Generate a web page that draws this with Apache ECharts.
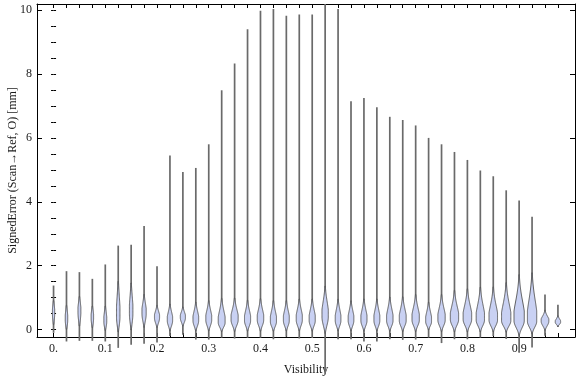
<!DOCTYPE html>
<html>
<head>
<meta charset="utf-8">
<script src="https://cdn.jsdelivr.net/npm/echarts@6.0.0/dist/echarts.min.js"></script>
<style>
  html, body { margin: 0; padding: 0; background: #ffffff; }
  #chart { width: 576px; height: 377px; }
</style>
</head>
<body>
<div id="chart"></div>
<script>
// violin positions on the Visibility axis
const POSITIONS = [0, 0.025, 0.05, 0.075, 0.1, 0.125, 0.15, 0.175, 0.2, 0.225,
  0.25, 0.275, 0.3, 0.325, 0.35, 0.375, 0.4, 0.425, 0.45, 0.475,
  0.5, 0.525, 0.55, 0.575, 0.6, 0.625, 0.65, 0.675, 0.7, 0.725,
  0.75, 0.775, 0.8, 0.825, 0.85, 0.875, 0.9, 0.925, 0.95, 0.975];
// extent of each distribution (mm)
const MINS = [-0.10, -0.37, -0.35, -0.35, -0.37, -0.57, -0.47, -0.44, -0.40, -0.20,
  -0.16, -0.31, -0.31, -0.25, -0.28, -0.25, -0.25, -0.30, -0.22, -0.28,
  -0.26, -1.40, -0.30, -0.30, -0.37, -0.37, -0.30, -0.32, -0.31, -0.25,
  -0.42, -0.30, -0.30, -0.25, -0.20, -0.29, -0.72, -0.56, -0.19, 0.08];
const MAXS = [1.38, 1.83, 1.80, 1.59, 2.04, 2.63, 2.66, 3.24, 1.98, 5.45,
  4.93, 5.06, 5.80, 7.49, 8.33, 9.40, 9.98, 10.03, 9.82, 9.86,
  9.86, 10.19, 10.03, 7.15, 7.25, 6.96, 6.66, 6.56, 6.39, 6.00,
  5.80, 5.56, 5.31, 4.98, 4.80, 4.36, 4.04, 3.53, 1.10, 0.78];
// densest value and the span of the main body
const MODES = [0.50, 0.30, 0.55, 0.35, 0.25, 0.40, 0.50, 0.50, 0.37, 0.28,
  0.37, 0.28, 0.30, 0.22, 0.30, 0.28, 0.30, 0.25, 0.28, 0.30,
  0.28, 0.40, 0.28, 0.28, 0.28, 0.28, 0.28, 0.28, 0.30, 0.25,
  0.30, 0.32, 0.32, 0.30, 0.30, 0.28, 0.28, 0.26, 0.26, 0.23];
const BODY_LO = [-0.05, -0.15, -0.10, -0.10, -0.15, -0.25, -0.20, -0.05, 0.00, -0.10,
  0.05, -0.10, -0.10, -0.10, -0.10, -0.10, -0.10, -0.10, -0.10, -0.10,
  -0.10, -0.20, -0.10, -0.10, -0.10, -0.10, -0.10, -0.10, -0.10, -0.05,
  -0.10, -0.10, -0.10, -0.10, -0.10, -0.10, -0.20, -0.15, -0.05, 0.08];
const BODY_HI = [1.10, 0.95, 1.20, 0.90, 0.90, 1.80, 1.70, 1.20, 0.80, 0.85,
  0.75, 0.90, 0.95, 1.00, 1.00, 0.95, 1.00, 0.95, 0.95, 1.00,
  1.00, 1.40, 1.00, 0.95, 1.00, 1.00, 1.05, 1.05, 1.10, 0.90,
  1.10, 1.20, 1.25, 1.30, 1.30, 1.40, 1.60, 1.70, 0.60, 0.45];
// relative peak density
const DENSITY = [0.27, 0.29, 0.33, 0.29, 0.33, 0.38, 0.38, 0.45, 0.53, 0.55,
  0.53, 0.58, 0.60, 0.69, 0.71, 0.62, 0.65, 0.62, 0.60, 0.62,
  0.62, 0.64, 0.58, 0.58, 0.62, 0.60, 0.65, 0.69, 0.73, 0.60,
  0.73, 0.82, 0.84, 0.82, 0.84, 0.91, 1.00, 0.91, 0.76, 0.55];

const X_TICKS = POSITIONS;
const X_LABELS = [0, 0.1, 0.2, 0.3, 0.4, 0.5, 0.6, 0.7, 0.8, 0.9];
const Y_LABELS = [0, 2, 4, 6, 8, 10];
const Y_MINOR = [0, 0.5, 1, 1.5, 2, 2.5, 3, 3.5, 4, 4.5, 5, 5.5, 6, 6.5, 7, 7.5, 8, 8.5, 9, 9.5, 10];

const FONT = '"Liberation Serif", "DejaVu Serif", serif';
const TEXT = '#1a1a1a';
const FILL = '#c9d1f3';
const EDGE = '#505050';
const TAIL = '#6a6a6a';
const MAX_HALF_WIDTH = 5.5;
const MIN_BODY = 0.6;

const violinData = POSITIONS.map((p, i) => [p, MINS[i], MAXS[i], MODES[i], BODY_LO[i], BODY_HI[i], DENSITY[i]]);

function shape(v, mode, lo, hi) {
  if (v >= mode) {
    const d = (v - mode) / ((hi - mode) / 2.2);
    return Math.min(1, Math.exp(-0.5 * d * d) + 0.15 * Math.exp(-(v - mode) / (hi - mode)));
  }
  const d = (mode - v) / ((mode - lo) / 2.2);
  return Math.exp(-0.5 * d * d);
}

function renderViolin(params, api) {
  const x = api.value(0);
  const mn = api.value(1);
  const mx = api.value(2);
  const mode = api.value(3);
  const lo = api.value(4);
  const hi = api.value(5);
  const peak = api.value(6) * MAX_HALF_WIDTH;
  const pTop = api.coord([x, mx]);
  const pBot = api.coord([x, mn]);
  // find where the body narrows down to the tail line
  let a = mode;
  while (a > mn && peak * shape(a, mode, lo, hi) > MIN_BODY) a -= 0.01;
  let b = mode;
  while (b < mx && peak * shape(b, mode, lo, hi) > MIN_BODY) b += 0.01;
  a = Math.max(a, mn);
  b = Math.min(b, mx);
  const steps = 60;
  const left = [];
  const right = [];
  for (let k = 0; k <= steps; k++) {
    const v = a + (b - a) * k / steps;
    const hw = Math.max(0, peak * shape(v, mode, lo, hi) - MIN_BODY * 0.6);
    const c = api.coord([x, v]);
    left.push([c[0] - hw, c[1]]);
    right.push([c[0] + hw, c[1]]);
  }
  return {
    type: 'group',
    children: [
      {
        type: 'line',
        shape: { x1: pTop[0], y1: pTop[1], x2: pBot[0], y2: pBot[1] },
        style: { stroke: TAIL, lineWidth: 1.7 }
      },
      {
        type: 'polygon',
        shape: { points: left.concat(right.reverse()) },
        style: { fill: FILL, stroke: EDGE, lineWidth: 0.9 }
      }
    ]
  };
}

const XMIN = -0.032;
const XMAX = 1.008;
const YMIN = -0.23;
const YMAX = 10.19;

const lineStyle = { color: '#000000', width: 1 };

const option = {
  backgroundColor: '#ffffff',
  animation: false,
  textStyle: { fontFamily: FONT, color: TEXT },
  grid: { left: 37, right: 1, top: 4, bottom: 40, containLabel: false, outerBoundsMode: 'none' },
  xAxis: [
    {
      type: 'value', position: 'bottom', min: XMIN, max: XMAX,
      name: 'Visibility', nameLocation: 'middle', nameGap: 27, nameMoveOverlap: false,
      nameTextStyle: { fontFamily: FONT, fontSize: 12, color: TEXT },
      axisLine: { show: true, onZero: false, lineStyle },
      axisTick: { show: true, inside: true, length: 4, customValues: X_TICKS, lineStyle },
      axisLabel: {
        show: true, margin: 6, customValues: X_LABELS, fontFamily: FONT, fontSize: 12, color: TEXT,
        formatter: (v) => (v === 0 ? '0.' : v.toFixed(1))
      },
      splitLine: { show: false }
    },
    {
      type: 'value', position: 'top', min: XMIN, max: XMAX,
      axisLine: { show: true, onZero: false, lineStyle },
      axisTick: { show: true, inside: true, length: 4, customValues: X_TICKS, lineStyle },
      axisLabel: { show: false },
      splitLine: { show: false }
    }
  ],
  yAxis: [
    {
      type: 'value', position: 'left', min: YMIN, max: YMAX,
      name: 'SignedError (Scan\u2192Ref, O) [mm]', nameLocation: 'middle', nameGap: 18, nameMoveOverlap: false,
      nameTextStyle: { fontFamily: FONT, fontSize: 12, color: TEXT },
      axisLine: { show: true, onZero: false, lineStyle },
      axisTick: { show: true, inside: true, length: 5, customValues: Y_LABELS, lineStyle },
      axisLabel: { show: true, margin: 5, customValues: Y_LABELS, fontFamily: FONT, fontSize: 12, color: TEXT },
      splitLine: { show: false }
    },
    {
      type: 'value', position: 'left', min: YMIN, max: YMAX,
      axisLine: { show: false },
      axisTick: { show: true, inside: true, length: 2.5, customValues: Y_MINOR, lineStyle },
      axisLabel: { show: false },
      splitLine: { show: false }
    },
    {
      type: 'value', position: 'right', min: YMIN, max: YMAX,
      axisLine: { show: true, onZero: false, lineStyle },
      axisTick: { show: true, inside: true, length: 5, customValues: Y_LABELS, lineStyle },
      axisLabel: { show: false },
      splitLine: { show: false }
    },
    {
      type: 'value', position: 'right', min: YMIN, max: YMAX,
      axisLine: { show: false },
      axisTick: { show: true, inside: true, length: 2.5, customValues: Y_MINOR, lineStyle },
      axisLabel: { show: false },
      splitLine: { show: false }
    }
  ],
  series: [
    {
      type: 'custom',
      xAxisIndex: 0,
      yAxisIndex: 0,
      clip: false,
      renderItem: renderViolin,
      encode: { x: 0, y: [1, 2] },
      data: violinData
    }
  ]
};

const chart = echarts.init(document.getElementById('chart'), null, { renderer: 'canvas' });
chart.setOption(option);
</script>
</body>
</html>
